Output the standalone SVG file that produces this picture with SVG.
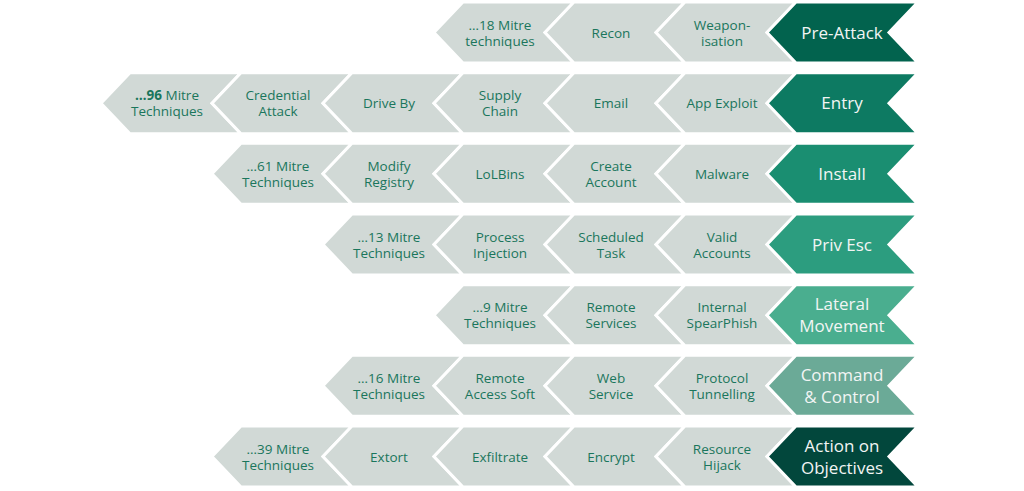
<svg xmlns="http://www.w3.org/2000/svg" xmlns:xlink="http://www.w3.org/1999/xlink" width="1024" height="491" viewBox="0 0 1024 491">
<style>
.g{fill:#D1D9D6;stroke:#FFFFFF;stroke-width:3;stroke-linejoin:miter}
.k{stroke:#FFFFFF;stroke-width:3;stroke-linejoin:miter}
.t{font-family:"Open Sans","Liberation Sans",sans-serif;font-size:13.5px;fill:#1A765C;text-anchor:middle}
.h{font-family:"Open Sans","Liberation Sans",sans-serif;font-size:17px;fill:#F2F5F4;text-anchor:middle}
.b{font-weight:bold}
</style>
<defs>
<path id="gch" d="M0,0 L29,-30.5 L140,-30.5 L111,0 L140,30.5 L29,30.5 Z"/>
<path id="pch" d="M0,0 L29,-30.5 L151,-30.5 L122,0 L151,30.5 L29,30.5 Z"/>
</defs>
<rect width="1024" height="491" fill="#FFFFFF"/>

<!-- Row 1 -->
<g id="r1-n3" transform="translate(434,32.5)"><use href="#gch" class="g"/><text class="t" x="66" y="-3">…18 Mitre</text><text class="t" x="66" y="13">techniques</text></g>
<g id="r1-n2" transform="translate(545,32.5)"><use href="#gch" class="g"/><text class="t" x="66" y="5">Recon</text></g>
<g id="r1-n1" transform="translate(656,32.5)"><use href="#gch" class="g"/><text class="t" x="66" y="-3">Weapon-</text><text class="t" x="66" y="13">isation</text></g>
<g id="pre-attack" transform="translate(767,32.5)"><use href="#pch" class="k" fill="#02634E"/><text class="h" x="75" y="6">Pre-Attack</text></g>

<!-- Row 2 -->
<g id="r2-n6" transform="translate(101,103.2)"><use href="#gch" class="g"/><text class="t" x="66" y="-3"><tspan class="b">…96</tspan> Mitre</text><text class="t" x="66" y="13">Techniques</text></g>
<g id="r2-n5" transform="translate(212,103.2)"><use href="#gch" class="g"/><text class="t" x="66" y="-3">Credential</text><text class="t" x="66" y="13">Attack</text></g>
<g id="r2-n4" transform="translate(323,103.2)"><use href="#gch" class="g"/><text class="t" x="66" y="5">Drive By</text></g>
<g id="r2-n3" transform="translate(434,103.2)"><use href="#gch" class="g"/><text class="t" x="66" y="-3">Supply</text><text class="t" x="66" y="13">Chain</text></g>
<g id="r2-n2" transform="translate(545,103.2)"><use href="#gch" class="g"/><text class="t" x="66" y="5">Email</text></g>
<g id="r2-n1" transform="translate(656,103.2)"><use href="#gch" class="g"/><text class="t" x="66" y="5">App Exploit</text></g>
<g id="entry" transform="translate(767,103.2)"><use href="#pch" class="k" fill="#0D7A62"/><text class="h" x="75" y="6">Entry</text></g>

<!-- Row 3 -->
<g id="r3-n5" transform="translate(212,173.8)"><use href="#gch" class="g"/><text class="t" x="66" y="-3">…61 Mitre</text><text class="t" x="66" y="13">Techniques</text></g>
<g id="r3-n4" transform="translate(323,173.8)"><use href="#gch" class="g"/><text class="t" x="66" y="-3">Modify</text><text class="t" x="66" y="13">Registry</text></g>
<g id="r3-n3" transform="translate(434,173.8)"><use href="#gch" class="g"/><text class="t" x="66" y="5">LoLBins</text></g>
<g id="r3-n2" transform="translate(545,173.8)"><use href="#gch" class="g"/><text class="t" x="66" y="-3">Create</text><text class="t" x="66" y="13">Account</text></g>
<g id="r3-n1" transform="translate(656,173.8)"><use href="#gch" class="g"/><text class="t" x="66" y="5">Malware</text></g>
<g id="install" transform="translate(767,173.8)"><use href="#pch" class="k" fill="#1A8E71"/><text class="h" x="75" y="6">Install</text></g>

<!-- Row 4 -->
<g id="r4-n4" transform="translate(323,244.5)"><use href="#gch" class="g"/><text class="t" x="66" y="-3">…13 Mitre</text><text class="t" x="66" y="13">Techniques</text></g>
<g id="r4-n3" transform="translate(434,244.5)"><use href="#gch" class="g"/><text class="t" x="66" y="-3">Process</text><text class="t" x="66" y="13">Injection</text></g>
<g id="r4-n2" transform="translate(545,244.5)"><use href="#gch" class="g"/><text class="t" x="66" y="-3">Scheduled</text><text class="t" x="66" y="13">Task</text></g>
<g id="r4-n1" transform="translate(656,244.5)"><use href="#gch" class="g"/><text class="t" x="66" y="-3">Valid</text><text class="t" x="66" y="13">Accounts</text></g>
<g id="priv-esc" transform="translate(767,244.5)"><use href="#pch" class="k" fill="#2C9D7F"/><text class="h" x="75" y="6">Priv Esc</text></g>

<!-- Row 5 -->
<g id="r5-n3" transform="translate(434,315.2)"><use href="#gch" class="g"/><text class="t" x="66" y="-3">…9 Mitre</text><text class="t" x="66" y="13">Techniques</text></g>
<g id="r5-n2" transform="translate(545,315.2)"><use href="#gch" class="g"/><text class="t" x="66" y="-3">Remote</text><text class="t" x="66" y="13">Services</text></g>
<g id="r5-n1" transform="translate(656,315.2)"><use href="#gch" class="g"/><text class="t" x="66" y="-3">Internal</text><text class="t" x="66" y="13">SpearPhish</text></g>
<g id="lateral-movement" transform="translate(767,315.2)"><use href="#pch" class="k" fill="#4AAE8F"/><text class="h" x="75" y="-5">Lateral</text><text class="h" x="75" y="17">Movement</text></g>

<!-- Row 6 -->
<g id="r6-n4" transform="translate(323,385.8)"><use href="#gch" class="g"/><text class="t" x="66" y="-3">…16 Mitre</text><text class="t" x="66" y="13">Techniques</text></g>
<g id="r6-n3" transform="translate(434,385.8)"><use href="#gch" class="g"/><text class="t" x="66" y="-3">Remote</text><text class="t" x="66" y="13">Access Soft</text></g>
<g id="r6-n2" transform="translate(545,385.8)"><use href="#gch" class="g"/><text class="t" x="66" y="-3">Web</text><text class="t" x="66" y="13">Service</text></g>
<g id="r6-n1" transform="translate(656,385.8)"><use href="#gch" class="g"/><text class="t" x="66" y="-3">Protocol</text><text class="t" x="66" y="13">Tunnelling</text></g>
<g id="command-control" transform="translate(767,385.8)"><use href="#pch" class="k" fill="#6BAA97"/><text class="h" x="75" y="-5">Command</text><text class="h" x="75" y="17">&amp; Control</text></g>

<!-- Row 7 -->
<g id="r7-n5" transform="translate(212,456.5)"><use href="#gch" class="g"/><text class="t" x="66" y="-3">…39 Mitre</text><text class="t" x="66" y="13">Techniques</text></g>
<g id="r7-n4" transform="translate(323,456.5)"><use href="#gch" class="g"/><text class="t" x="66" y="5">Extort</text></g>
<g id="r7-n3" transform="translate(434,456.5)"><use href="#gch" class="g"/><text class="t" x="66" y="5">Exfiltrate</text></g>
<g id="r7-n2" transform="translate(545,456.5)"><use href="#gch" class="g"/><text class="t" x="66" y="5">Encrypt</text></g>
<g id="r7-n1" transform="translate(656,456.5)"><use href="#gch" class="g"/><text class="t" x="66" y="-3">Resource</text><text class="t" x="66" y="13">Hijack</text></g>
<g id="action-on-objectives" transform="translate(767,456.5)"><use href="#pch" class="k" fill="#02473C"/><text class="h" x="75" y="-5">Action on</text><text class="h" x="75" y="17">Objectives</text></g>
</svg>
